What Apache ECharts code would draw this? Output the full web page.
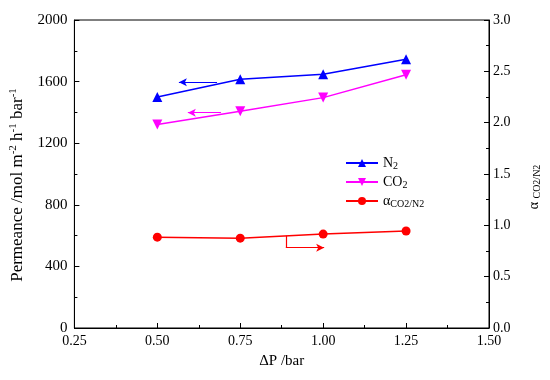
<!DOCTYPE html>
<html><head><meta charset="utf-8">
<script src="https://cdn.jsdelivr.net/npm/echarts@6/dist/echarts.min.js"></script>
<style>html,body{margin:0;padding:0;background:#fff}#c{width:550px;height:380px}</style>
</head><body><div id="c"></div>
<script>
var pressures = [0.50, 0.75, 1.00, 1.25];
var n2Permeance = [1500, 1615, 1648, 1745];
var co2Permeance = [1322, 1408, 1496, 1644];
var alphaSel = [0.885, 0.875, 0.915, 0.945];
var seriesNames = ['N2', 'CO2', 'alpha'];

function pairs(xs, ys){ return xs.map(function(x,i){ return [x, ys[i]]; }); }
var F = '"Liberation Serif", "Times New Roman", serif';
var chart = echarts.init(document.getElementById('c'));
var sub = {a:{fontFamily:F,fontSize:14,color:'#000'}, s:{fontFamily:F,fontSize:10,color:'#000',padding:[6,0,0,0]}};
var arrowStyle = function(c){ return {color:c, width:1.2, type:'solid'}; };
chart.setOption({
  animation:false,
  backgroundColor:'#fff',
  grid:{left:73,right:56,top:20,bottom:52,show:true,borderColor:'#000',borderWidth:1},
  legend:{
    orient:'vertical', left:340, top:151, itemWidth:32, itemHeight:10, itemGap:4,
    data:seriesNames,
    formatter:function(n){
      if(n==='N2') return '{a|N}{s|2}';
      if(n==='CO2') return '{a|CO}{s|2}';
      return '{a|α}{s|CO2/N2}';
    },
    textStyle:{rich:sub}
  },
  xAxis:{type:'value', min:0.25, max:1.5, interval:0.25,
    name:'ΔP /bar', nameLocation:'middle', nameGap:26,
    nameTextStyle:{fontFamily:F,fontSize:15,color:'#000'},
    axisLine:{lineStyle:{color:'#000',width:1}},
    axisTick:{inside:true,length:5,lineStyle:{color:'#000'}},
    minorTick:{show:true,splitNumber:2,length:3,lineStyle:{color:'#000'}},
    axisLabel:{fontFamily:F,fontSize:14,color:'#000',margin:6,formatter:function(v){return v.toFixed(2);}},
    splitLine:{show:false}},
  yAxis:[{type:'value', min:0, max:2000, interval:400,
    name:'{a|Permeance /mol m}{p|-2}{a| h}{p|-1}{a| bar}{p|-1}', nameLocation:'middle', nameGap:42,
    nameTextStyle:{padding:[0,22,0,0],rich:{a:{fontFamily:F,fontSize:17,color:'#000'},p:{fontFamily:F,fontSize:11,color:'#000',padding:[0,0,9,0]}}},
    axisLine:{show:true,lineStyle:{color:'#000',width:1}},
    axisTick:{inside:true,length:5,lineStyle:{color:'#000'}},
    minorTick:{show:true,splitNumber:2,length:3,lineStyle:{color:'#000'}},
    axisLabel:{fontFamily:F,fontSize:15,color:'#000',margin:7,formatter:function(v){return String(v);}},
    splitLine:{show:false}},
   {type:'value', min:0, max:3, interval:0.5, position:'right',
    name:'{a|α }{s|CO2/N2}', nameLocation:'middle', nameGap:38, nameRotate:90,
    nameTextStyle:{padding:[0,26,0,0],rich:{a:{fontFamily:F,fontSize:14,color:'#000'},s:{fontFamily:F,fontSize:10,color:'#000',padding:[5,0,0,0]}}},
    axisLine:{show:true,lineStyle:{color:'#000',width:1}},
    axisTick:{inside:true,length:5,lineStyle:{color:'#000'}},
    minorTick:{show:true,splitNumber:2,length:3,lineStyle:{color:'#000'}},
    axisLabel:{fontFamily:F,fontSize:14,color:'#000',margin:4,formatter:function(v){return v.toFixed(1);}},
    splitLine:{show:false}}],
  series:[
    {name:'N2', type:'line', yAxisIndex:0, data:pairs(pressures,n2Permeance),
     symbol:'triangle', symbolSize:10, lineStyle:{color:'#0000ff',width:1.5}, itemStyle:{color:'#0000ff'},
     markLine:{silent:true, symbol:['none','arrow'], symbolSize:[6,8], label:{show:false}, lineStyle:arrowStyle('#0000ff'),
       data:[[{coord:[0.680,1595]},{coord:[0.565,1595]}]]}},
    {name:'CO2', type:'line', yAxisIndex:0, data:pairs(pressures,co2Permeance),
     symbol:'triangle', symbolRotate:180, symbolSize:10, lineStyle:{color:'#ff00ff',width:1.5}, itemStyle:{color:'#ff00ff'},
     markLine:{silent:true, symbol:['none','arrow'], symbolSize:[6,8], label:{show:false}, lineStyle:arrowStyle('#ff00ff'),
       data:[[{coord:[0.692,1398]},{coord:[0.592,1398]}]]}},
    {name:'alpha', type:'line', yAxisIndex:1, data:pairs(pressures,alphaSel),
     symbol:'circle', symbolSize:9, lineStyle:{color:'#ff0000',width:1.5}, itemStyle:{color:'#ff0000'},
     markLine:{silent:true, symbol:'none', label:{show:false}, lineStyle:arrowStyle('#ff0000'),
       data:[[{coord:[0.8875,0.899],symbol:'none'},{coord:[0.8875,0.782],symbol:'none'}],
             [{coord:[0.8875,0.782],symbol:'none'},{coord:[1.003,0.782],symbol:'arrow',symbolSize:[6,8]}]]}}
  ]
});
</script></body></html>
